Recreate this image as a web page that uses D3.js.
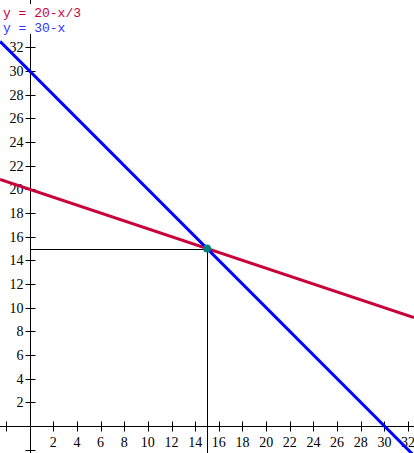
<!DOCTYPE html>
<html><head><meta charset="utf-8">
<script src="https://cdn.jsdelivr.net/npm/d3@7"></script>
<style>body{margin:0;background:#fff}svg{display:block}</style>
</head><body>
<script>
const equations = ["y = 20-x/3", "y = 30-x"];
const lineColors = ["#c8003c", "#0000ff"];
const textColors = ["#c8003c", "#3333ff"];
const slopes = [-1/3, -1];
const intercepts = [20, 30];
const intersection = [15, 15];
const xTicks = [2,4,6,8,10,12,14,16,18,20,22,24,26,28,30,32];
const yTicks = [2,4,6,8,10,12,14,16,18,20,22,24,26,28,30,32];
const minorTicks = [-2, 34];

const W = 414, H = 453;
const x = d3.scaleLinear().domain([-2.5, 32.5]).range([0, W]);
const y = d3.scaleLinear().domain([-2.28, 36]).range([H, 0]);
const px = v => Math.round(v) + 0.5;
const svg = d3.select("body").append("svg").attr("width", W).attr("height", H);

// axes
svg.append("line").attr("x1", 0).attr("x2", W).attr("y1", px(y(0))).attr("y2", px(y(0))).attr("stroke", "#000");
svg.append("line").attr("x1", px(x(0))).attr("x2", px(x(0))).attr("y1", 0).attr("y2", H).attr("stroke", "#000");

const xt = xTicks.concat([-2]);
svg.selectAll(".xt").data(xt).enter().append("line")
  .attr("x1", d => px(x(d))).attr("x2", d => px(x(d)))
  .attr("y1", px(y(0)) - 5).attr("y2", px(y(0)) + 5).attr("stroke", "#000");
const yt = yTicks.concat(minorTicks);
svg.selectAll(".yt").data(yt).enter().append("line")
  .attr("y1", d => px(y(d))).attr("y2", d => px(y(d)))
  .attr("x1", px(x(0)) - 5).attr("x2", px(x(0)) + 5).attr("stroke", "#000");

svg.selectAll(".xl").data(xTicks).enter().append("text")
  .attr("x", d => x(d)).attr("y", y(0) + 21).attr("text-anchor", "middle")
  .attr("font-family", "Liberation Serif").attr("font-size", 14).text(d => d);
svg.selectAll(".yl").data(yTicks).enter().append("text")
  .attr("x", x(0) - 6).attr("y", d => y(d) + 5).attr("text-anchor", "end")
  .attr("font-family", "Liberation Serif").attr("font-size", 14).text(d => d);

// drop lines
svg.append("line").attr("x1", px(x(0))).attr("x2", px(x(intersection[0]))).attr("y1", px(y(intersection[1]))).attr("y2", px(y(intersection[1]))).attr("stroke", "#000");
svg.append("line").attr("x1", px(x(intersection[0]))).attr("x2", px(x(intersection[0]))).attr("y1", px(y(intersection[1]))).attr("y2", H).attr("stroke", "#000");

// lines
const line = d3.line().x(d => x(d[0])).y(d => y(d[1]));
equations.forEach((e, i) => {
  const pts = [-2.5, 32.5].map(v => [v, intercepts[i] + slopes[i] * v]);
  svg.append("path").attr("d", line(pts)).attr("stroke", lineColors[i]).attr("stroke-width", 3).attr("fill", "none");
});

svg.append("circle").attr("cx", x(intersection[0])).attr("cy", y(intersection[1])).attr("r", 4).attr("fill", "#008080");

// legend
svg.append("rect").attr("x", 0).attr("y", 4).attr("width", 84).attr("height", 30).attr("fill", "#fff");
equations.forEach((e, i) => {
  svg.append("text").attr("x", 3).attr("y", 16.5 + i * 15)
    .attr("font-family", "Liberation Mono").attr("font-size", 13)
    .attr("fill", textColors[i]).attr("xml:space", "preserve").text(e);
});
</script>
</body></html>
